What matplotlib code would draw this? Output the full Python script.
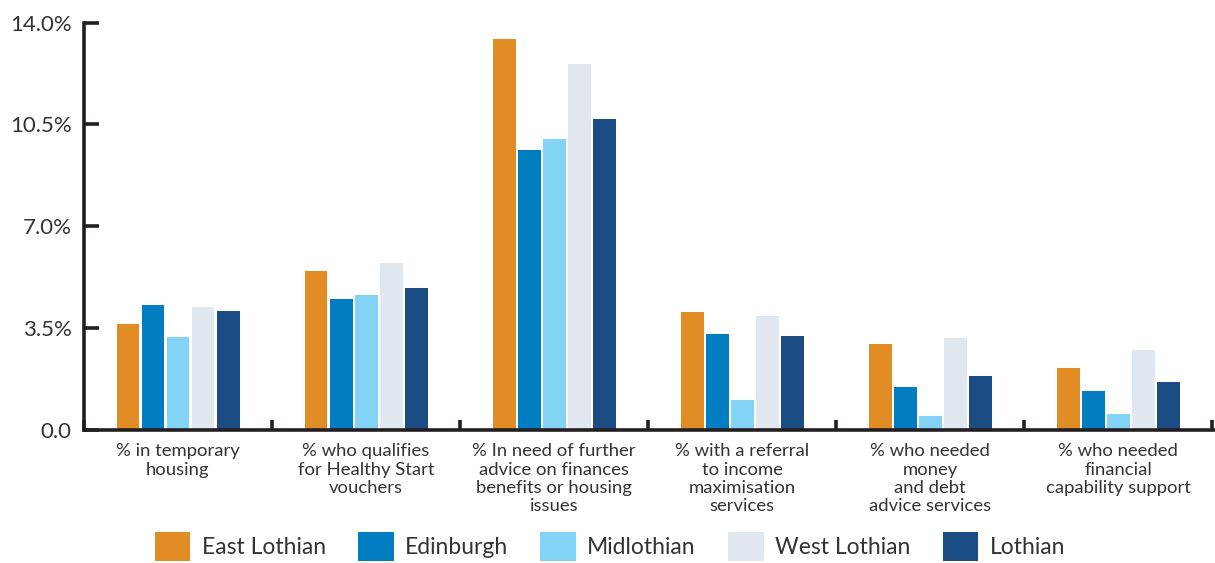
import matplotlib
matplotlib.use("Agg")
import matplotlib.pyplot as plt
import numpy as np
from matplotlib.patches import Patch

categories = [
    "% in temporary\nhousing",
    "% who qualifies\nfor Healthy Start\nvouchers",
    "% In need of further\nadvice on finances\nbenefits or housing\nissues",
    "% with a referral\nto income\nmaximisation\nservices",
    "% who needed\nmoney\nand debt\nadvice services",
    "% who needed\nfinancial\ncapability support",
]
areas = ["East Lothian", "Edinburgh", "Midlothian", "West Lothian", "Lothian"]
east_lothian = [3.63, 5.45, 13.44, 4.04, 2.94, 2.12]
edinburgh = [4.28, 4.49, 9.62, 3.29, 1.46, 1.32]
midlothian = [3.18, 4.63, 10.00, 1.02, 0.46, 0.53]
west_lothian = [4.21, 5.73, 12.58, 3.91, 3.15, 2.74]
lothian = [4.08, 4.87, 10.69, 3.22, 1.84, 1.63]
yticks = [0.0, 3.5, 7.0, 10.5, 14.0]
ytick_labels = ["0.0", "3.5%", "7.0%", "10.5%", "14.0%"]

series = [east_lothian, edinburgh, midlothian, west_lothian, lothian]
colors = ["#E28C25", "#027DC2", "#83D3F7", "#E0E7EE", "#1B4D84"]
axis_col = "#231F20"
text_col = "#333333"

plt.rcParams["font.family"] = ["Lato", "DejaVu Sans"]

fig = plt.figure(figsize=(12.15, 5.63), dpi=100)
ax = fig.add_axes([84 / 1215, 133.5 / 563, 1131 / 1215, 406.8 / 563])

x = np.arange(len(categories))
step = 0.133
width = 0.122
for i, (vals, col) in enumerate(zip(series, colors)):
    ax.bar(x + (i - 2) * step, vals, width=width, color=col, label=areas[i])

ax.set_xlim(-0.5, 5.515)
ax.set_ylim(0, 14)

for s in ["top", "right"]:
    ax.spines[s].set_visible(False)
for s in ["left", "bottom"]:
    ax.spines[s].set_color(axis_col)
    ax.spines[s].set_linewidth(2.6)

ax.set_yticks(yticks)
ax.set_yticklabels(ytick_labels, fontsize=16, color=text_col)
ax.tick_params(axis="y", direction="in", length=11, width=2.6, color=axis_col, pad=9)

ax.set_xticks(np.arange(len(categories) + 1) - 0.5)
ax.set_xticklabels([])
ax.tick_params(axis="x", which="major", direction="in", length=7, width=2.6, color=axis_col)
ax.set_xticks(x, minor=True)
ax.set_xticklabels(categories, minor=True, fontsize=13.3, color=text_col, linespacing=1.17)
ax.tick_params(axis="x", which="minor", length=0, pad=10)

handles = [Patch(facecolor=c, edgecolor="none") for c in colors]
fig.legend(handles, areas, loc="center", bbox_to_anchor=(0.502, 0.029), ncol=5,
           frameon=False, fontsize=16.5, handlelength=1.55, handleheight=1.55,
           handletextpad=0.5, columnspacing=1.4, borderpad=0,
           labelcolor=text_col)

fig.savefig("out.png", dpi=100)
